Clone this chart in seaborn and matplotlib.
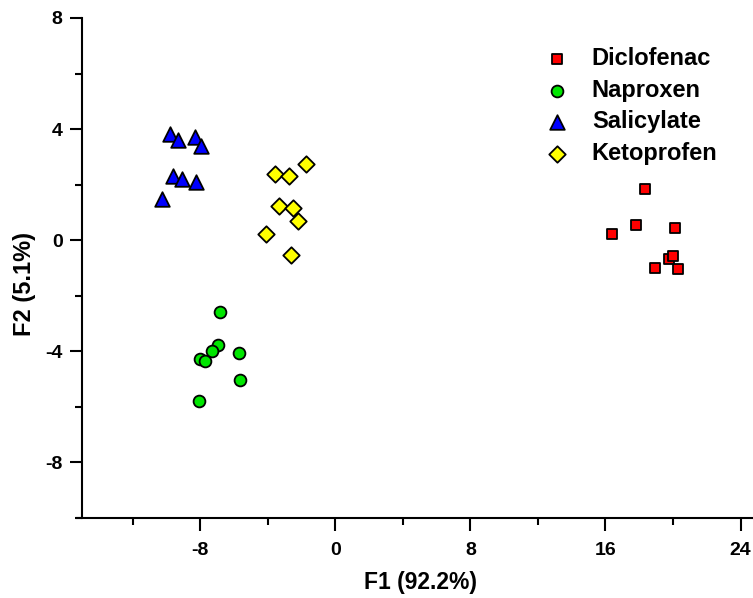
import matplotlib
matplotlib.use("Agg")
import matplotlib.pyplot as plt
import seaborn as sns
import pandas as pd
from matplotlib.ticker import MultipleLocator

sns.set_style("ticks")
plt.rcParams['font.family'] = ['Liberation Sans', 'DejaVu Sans']
plt.rcParams['font.weight'] = 'bold'
plt.rcParams['axes.unicode_minus'] = False
plt.rcParams['text.color'] = 'black'
plt.rcParams['axes.labelcolor'] = 'black'
plt.rcParams['xtick.color'] = 'black'
plt.rcParams['ytick.color'] = 'black'
plt.rcParams['axes.edgecolor'] = 'black'

categories = ["Diclofenac", "Naproxen", "Salicylate", "Ketoprofen"]

diclofenac_f1 = [18.33, 17.84, 16.40, 20.10, 19.76, 19.99, 18.94, 20.31]
diclofenac_f2 = [1.83, 0.54, 0.24, 0.44, -0.68, -0.57, -1.00, -1.03]

naproxen_f1 = [-6.84, -6.96, -7.32, -8.03, -7.73, -5.71, -5.67, -8.05]
naproxen_f2 = [-2.58, -3.78, -4.00, -4.27, -4.35, -4.06, -5.02, -5.79]

salicylate_f1 = [-9.78, -9.31, -8.32, -7.94, -9.63, -9.05, -8.24, -10.25]
salicylate_f2 = [3.82, 3.60, 3.72, 3.39, 2.33, 2.19, 2.10, 1.48]

ketoprofen_f1 = [-3.56, -2.73, -1.72, -3.36, -2.53, -2.23, -4.09, -2.61]
ketoprofen_f2 = [2.40, 2.31, 2.73, 1.23, 1.16, 0.70, 0.21, -0.54]

x_ticks = [-8, 0, 8, 16, 24]
y_ticks = [-8, -4, 0, 4, 8]

rows = []
for name, xs, ys in [("Diclofenac", diclofenac_f1, diclofenac_f2),
                     ("Naproxen", naproxen_f1, naproxen_f2),
                     ("Salicylate", salicylate_f1, salicylate_f2),
                     ("Ketoprofen", ketoprofen_f1, ketoprofen_f2)]:
    for a, b in zip(xs, ys):
        rows.append({"F1": a, "F2": b, "Drug": name})
df = pd.DataFrame(rows)

palette = {"Diclofenac": "#FF0000", "Naproxen": "#00E600",
           "Salicylate": "#0000FF", "Ketoprofen": "#FFFF00"}
markers = {"Diclofenac": "s", "Naproxen": "o", "Salicylate": "^", "Ketoprofen": "D"}
sizes = {"Diclofenac": 60, "Naproxen": 72, "Salicylate": 110, "Ketoprofen": 70}

fig = plt.figure(figsize=(7.53, 5.98), dpi=100)
W, H = 753, 598
ax = fig.add_axes([82 / W, (H - 518) / H, (753 - 82) / W, (518 - 18) / H])

for name in categories:
    sub = df[df["Drug"] == name]
    sns.scatterplot(data=sub, x="F1", y="F2", color=palette[name], marker=markers[name],
                    s=sizes[name], edgecolor="black", linewidth=1.3, ax=ax, label=name,
                    zorder=3, clip_on=False)

ax.set_xlim(-15, 24.74)
ax.set_ylim(-10, 8)
ax.set_xticks(x_ticks)
ax.set_yticks(y_ticks)
ax.xaxis.set_minor_locator(MultipleLocator(4))
ax.yaxis.set_minor_locator(MultipleLocator(2))
ax.tick_params(which="major", length=9, width=1.5, labelsize=14)
ax.tick_params(axis="x", which="major", pad=8)
ax.tick_params(axis="y", which="major", pad=5)
ax.tick_params(which="minor", length=5, width=1.5)
for lab in ax.get_xticklabels() + ax.get_yticklabels():
    lab.set_fontweight("bold")

sns.despine(ax=ax)
for sp in ["left", "bottom"]:
    ax.spines[sp].set_linewidth(1.5)
ax.spines["bottom"].set_bounds(-15.3, 24.74)

ax.set_xlabel("F1 (92.2%)", fontsize=16.5, fontweight="bold", va="center")
ax.xaxis.set_label_coords((420 - 82) / 671, (518 - 582.5) / 500)
ax.set_ylabel("F2 (5.1%)", fontsize=17, fontweight="bold", va="center")
ax.yaxis.set_label_coords((24 - 82) / 671, (518 - 284.5) / 500)

leg = ax.legend(loc="upper left", bbox_to_anchor=(512 / W, 1 - 26 / H),
                bbox_transform=fig.transFigure, frameon=False,
                prop={"size": 17, "weight": "bold"}, handletextpad=0.48,
                labelspacing=0.36, markerscale=1.0)

fig.savefig("out.png", dpi=100, facecolor="white")
